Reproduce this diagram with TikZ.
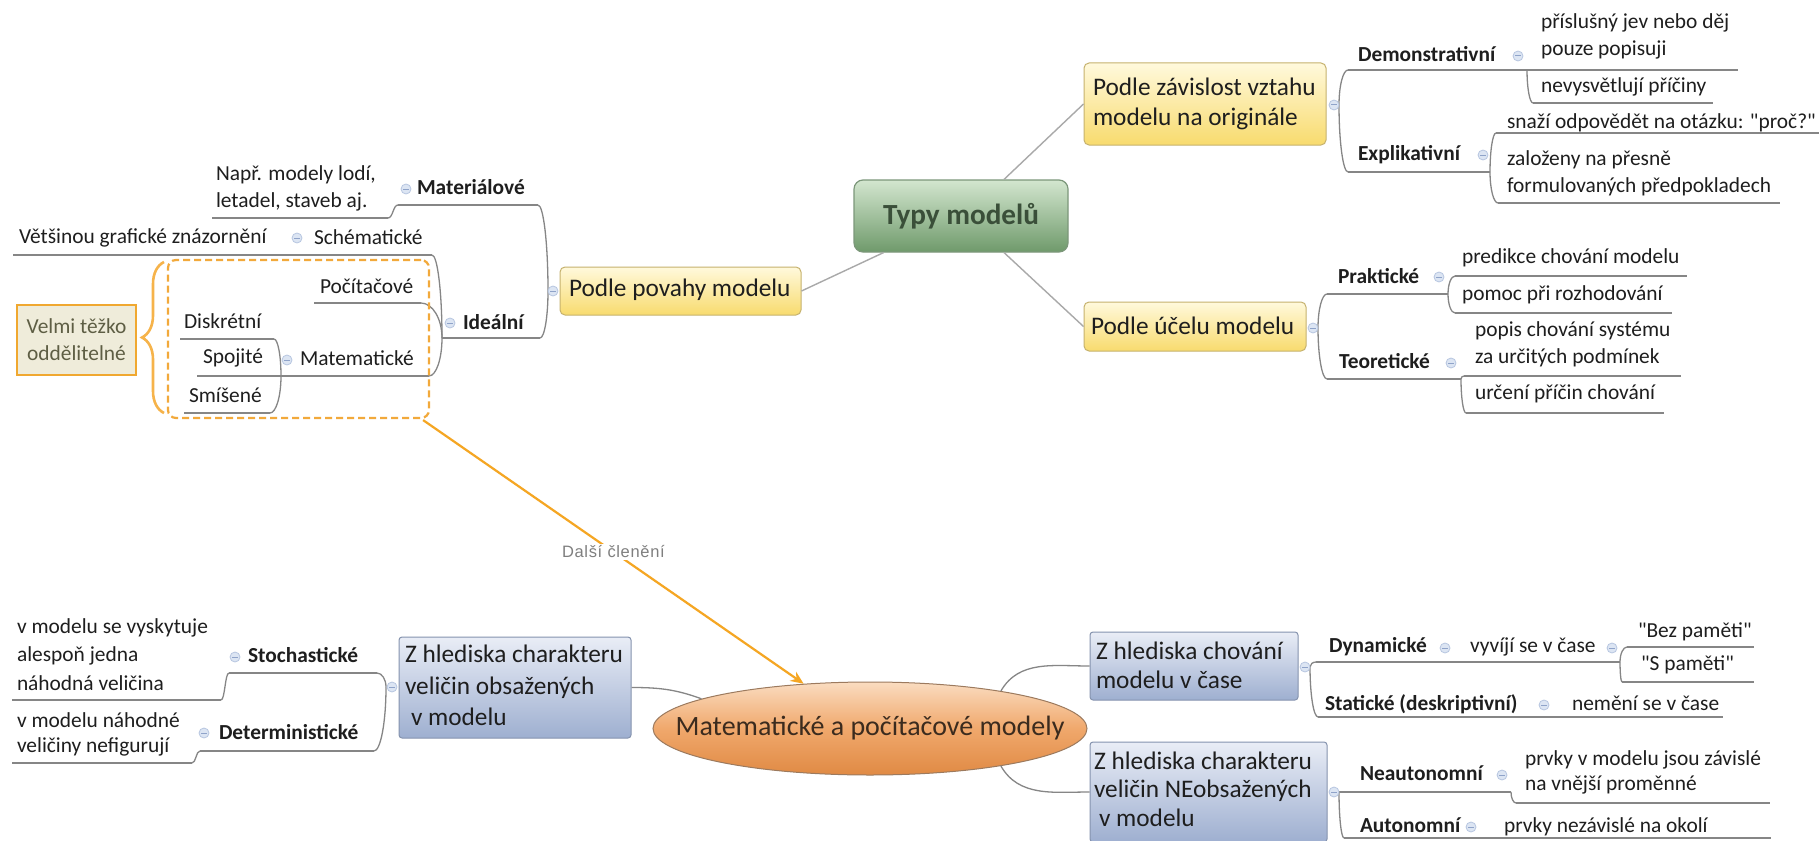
\documentclass[tikz,border=0pt]{standalone}
\usepackage{fontspec}
\setmainfont{Carlito}[Ligatures=TeXOff]
\newfontfamily\labelfamily[LetterSpace=4]{Liberation Sans}
\usetikzlibrary{arrows.meta,calc,decorations.pathreplacing,shapes.geometric}

% colours
\definecolor{ulgray}{HTML}{868686}
\definecolor{rootgray}{HTML}{A9A9A9}
\definecolor{txt}{HTML}{1E1E1E}
\definecolor{roottop}{HTML}{D3E6CF}
\definecolor{rootbot}{HTML}{6F9A6B}
\definecolor{rootline}{HTML}{7C977A}
\definecolor{roottext}{HTML}{3A4F39}
\definecolor{ytop}{HTML}{FFF9DC}
\definecolor{ybot}{HTML}{F8DB6E}
\definecolor{yline}{HTML}{C6B26E}
\definecolor{btop}{HTML}{E9EDF6}
\definecolor{bbot}{HTML}{9EAFD0}
\definecolor{bline}{HTML}{8593AE}
\definecolor{etop}{HTML}{FADCC0}
\definecolor{emid}{HTML}{F0A86C}
\definecolor{ebot}{HTML}{E08A44}
\definecolor{eline}{HTML}{9C7A5E}
\definecolor{etext}{HTML}{3B2B1E}
\definecolor{orline}{HTML}{F5A623}
\definecolor{ordash}{HTML}{F2A93B}
\definecolor{orbrace}{HTML}{F6B34A}
\definecolor{hintfill}{HTML}{EFECDA}
\definecolor{hintline}{HTML}{F0A830}
\definecolor{hinttext}{HTML}{5E5E44}
\definecolor{togfill}{HTML}{DCE5F3}
\definecolor{togline}{HTML}{B7C6E0}
\definecolor{togminus}{HTML}{8FA3C9}
\definecolor{lbltext}{HTML}{7F7F7F}

% fonts
\newcommand\fnorm{\fontsize{21.4pt}{27pt}\selectfont}
\newcommand\ftopic{\fontsize{25.3pt}{29.5pt}\selectfont}
\newcommand\froot{\fontsize{29.2pt}{34pt}\selectfont\bfseries}
\newcommand\fellip{\fontsize{28pt}{33pt}\selectfont}
\newcommand\flbl{\labelfamily\fontsize{16.5pt}{19pt}\selectfont}
\newcommand\nstrut{\rule[-4.5pt]{0pt}{19.5pt}}
\newcommand\tstrut{\rule[-5.3pt]{0pt}{23pt}}

\begin{document}
\begin{tikzpicture}[x=1pt,y=-1pt,
  leaf/.style={anchor=west, inner sep=0pt, outer sep=0pt, align=left, font=\fnorm, text=txt,
    execute at begin node=\nstrut, execute at end node=\nstrut},
  leafb/.style={leaf, font=\fnorm\bfseries},
  topictext/.style={anchor=west, inner sep=0pt, outer sep=0pt, align=left, font=\ftopic, text=txt,
    execute at begin node=\tstrut, execute at end node=\tstrut},
  root/.style={rectangle, rounded corners=9pt, minimum width=214pt, minimum height=72pt, inner sep=0pt,
    top color=roottop, bottom color=rootbot, draw=rootline, line width=1.2pt, font=\froot, text=roottext},
  ybox/.style={rectangle, rounded corners=5pt, inner sep=0pt, top color=ytop, bottom color=ybot,
    draw=yline, line width=1pt},
  bbox/.style={rectangle, rounded corners=3pt, inner sep=0pt, top color=btop, bottom color=bbot,
    draw=bline, line width=1pt},
  ell/.style={ellipse, minimum width=434pt, minimum height=93pt, inner sep=0pt,
    top color=etop, bottom color=ebot, middle color=emid, draw=eline, line width=1pt,
    font=\fellip, text=etext},
  group/.style={rectangle, rounded corners=8pt, minimum width=261pt, minimum height=158pt, inner sep=0pt,
    draw=ordash, line width=2.2pt, dash pattern=on 7pt off 4pt},
  hint/.style={rectangle, minimum width=119pt, minimum height=70pt, inner sep=0pt, align=center,
    fill=hintfill, draw=hintline, line width=2.5pt, font=\fnorm, text=hinttext},
  tog/.style={circle, draw=togline, fill=togfill, line width=0.8pt, minimum size=10pt, inner sep=0pt,
    path picture={\draw[togminus, line width=1pt]
      ($(path picture bounding box.center)+(-2.6,0)$) -- ($(path picture bounding box.center)+(2.6,0)$);}},
  ul/.style={draw=ulgray, line width=1.3pt},
  rootconn/.style={draw=rootgray, line width=1.4pt},
  bracket/.style={draw=ulgray, line width=1.3pt,
    to path={.. controls ($(\tikztostart)!0.55!(\tikztostart|-\tikztotarget)$)
      and ($(\tikztotarget)!0.55!(\tikztostart|-\tikztotarget)$) .. (\tikztotarget)}},
  swing/.style={draw=ulgray, line width=1.3pt,
    to path={.. controls ($(\tikztostart)!0.5!(\tikztotarget|-\tikztostart)$)
      and ($(\tikztotarget)!0.5!(\tikztostart|-\tikztotarget)$) .. (\tikztotarget)}},
  branch/.style={draw=ulgray, line width=1.3pt},
  orarrow/.style={draw=orline, line width=2.2pt, -{Stealth[length=13pt,width=11pt]}},
  lbl/.style={fill=white, inner sep=2pt, font=\flbl, text=lbltext},
  bracestyle/.style={draw=orbrace, line width=2.6pt, decorate,
    decoration={brace, amplitude=22pt, aspect=0.5}}
]
\useasboundingbox (0,0) rectangle (1819,840);
\fill[white] (0,0) rectangle (1819,840);
\clip (0,0) rectangle (1819,840);

% ---------------- main boxes
\node[root] (typy) at (961,216) {Typy modelů};
\node[ybox, minimum width=242pt, minimum height=82pt] (zav) at (1205,104) {};
\node[topictext] (zav-t) at (1093,104.5) {Podle závislost vztahu\\modelu na originále};
\node[ybox, minimum width=222pt, minimum height=49pt] (ucel) at (1195,326.5) {};
\node[topictext] (ucel-t) at (1091,328) {Podle účelu modelu};
\node[ybox, minimum width=241pt, minimum height=48pt] (pov) at (680.5,291) {};
\node[topictext] (pov-t) at (569,290) {Podle povahy modelu};

\node[bbox, minimum width=232pt, minimum height=101pt] (zobs) at (515,687.5) {};
\node[topictext, font=\fontsize{25.3pt}{31.5pt}\selectfont] (zobs-t) at (405,688)
  {Z hlediska charakteru\\veličin obsažených\\\hspace*{6pt}v modelu};
\node[bbox, minimum width=208pt, minimum height=68pt] (chov) at (1194,666) {};
\node[topictext] (chov-t) at (1096,668) {Z hlediska chování\\modelu v čase};
\node[bbox, minimum width=237pt, minimum height=100pt] (neo) at (1208.5,792) {};
\node[topictext, font=\fontsize{25.3pt}{28.5pt}\selectfont] (neo-t) at (1094,791.5)
  {Z hlediska charakteru\\veličin NEobsažených\\\hspace*{5pt}v modelu};

% the text is boxed to zero width so the ellipse keeps its given size
\node[ell] (matmod) at (870,728.5) {\makebox[0pt][c]{Matematické a počítačové modely}};

% ---------------- root connectors
\draw[rootconn] ($(typy.north west)!0.7!(typy.north east)$) -- (zav.west);
\draw[rootconn] ($(typy.south west)!0.7!(typy.south east)$) -- (ucel.west);
\draw[rootconn] ($(typy.south west)!0.14!(typy.south east)$) -- (pov.east);

% ================= Podle závislost vztahu modelu na originále
\coordinate (zav-p) at (1339,105);
\coordinate (dem-l) at (1348,70);  \coordinate (dem-r) at (1527,70);  \coordinate (pri-r) at (1738,70);
\coordinate (nev-l) at (1533,103); \coordinate (nev-r) at (1713,103);
\coordinate (exp-l) at (1348,172); \coordinate (exp-r) at (1490,172);
\coordinate (sna-l) at (1496,133); \coordinate (sna-r) at (1819,133);
\coordinate (zal-l) at (1498,203); \coordinate (zal-r) at (1780,203);
\draw[ul] (dem-l) -- (dem-r) -- (pri-r);
\draw[ul] (nev-l) -- (nev-r);
\draw[ul] (exp-l) -- (exp-r);
\draw[ul] (sna-l) -- (sna-r);
\draw[ul] (zal-l) -- (zal-r);
\draw[bracket] (zav-p) to (dem-l);
\draw[bracket] (zav-p) to (exp-l);
\draw[bracket] (dem-r) to (nev-l);
\draw[bracket] (exp-r) to (sna-l);
\draw[bracket] (exp-r) to (zal-l);
\node[tog] (zav-c) at (1334,105) {};
\node[leafb] (dem) at (1358,56) {Demonstrativní};
\node[tog] (dem-c) at (1518,56) {};
\node[leaf] (pri) at (1541,36.5) {příslušný jev nebo děj\\pouze popisuji};
\node[leaf] (nev) at (1541,87) {nevysvětlují příčiny};
\node[leafb] (exp) at (1358,155) {Explikativní};
\node[tog] (exp-c) at (1483,155) {};
\node[leaf] (sna) at (1507,123) {snaží odpovědět na otázku: "proč?"};
\node[leaf] (zal) at (1507,173.5) {založeny na přesně\\formulovaných předpokladech};

% ================= Podle účelu modelu
\coordinate (ucel-p) at (1318,328);
\coordinate (pra-l) at (1327,294); \coordinate (pra-r) at (1448,294);
\coordinate (pre-l) at (1455,276); \coordinate (pre-r) at (1687,276);
\coordinate (pom-l) at (1455,313); \coordinate (pom-r) at (1672,313);
\coordinate (teo-l) at (1327,379); \coordinate (teo-r) at (1461,379);
\coordinate (pop-l) at (1464,376); \coordinate (pop-r) at (1681,376);
\coordinate (urc-l) at (1466,413); \coordinate (urc-r) at (1664,413);
\draw[ul] (pra-l) -- (pra-r);
\draw[ul] (pre-l) -- (pre-r);
\draw[ul] (pom-l) -- (pom-r);
\draw[ul] (teo-l) -- (teo-r);
\draw[ul] (pop-l) -- (pop-r);
\draw[ul] (urc-l) -- (urc-r);
\draw[bracket] (ucel-p) to (pra-l);
\draw[bracket] (ucel-p) to (teo-l);
\draw[bracket] (pra-r) to (pre-l);
\draw[bracket] (pra-r) to (pom-l);
\draw[bracket] (teo-r) to (pop-l);
\draw[bracket] (teo-r) to (urc-l);
\node[tog] (ucel-c) at (1313,328) {};
\node[leafb] (pra) at (1338,278) {Praktické};
\node[tog] (pra-c) at (1439,277) {};
\node[leaf] (pre) at (1462,258) {predikce chování modelu};
\node[leaf] (pom) at (1462,295) {pomoc při rozhodování};
\node[leafb] (teo) at (1339,363) {Teoretické};
\node[tog] (teo-c) at (1451,363) {};
\node[leaf] (pop) at (1475,345) {popis chování systému\\za určitých podmínek};
\node[leaf] (urc) at (1475,394) {určení příčin chování};

% ================= Podle povahy modelu
\coordinate (pov-p) at (548,291);
\coordinate (mtl-l) at (398,205); \coordinate (mtl-r) at (538,205);
\coordinate (nap-l) at (212,218); \coordinate (nap-r) at (388,218);
\coordinate (ide-l) at (442,338); \coordinate (ide-r) at (540,338);
\coordinate (vet-l) at (13,255);  \coordinate (sch-l) at (288,255); \coordinate (sch-r) at (432,255);
\coordinate (poc-l) at (314,303); \coordinate (poc-r) at (421,303);
\coordinate (mtm-l) at (281,376); \coordinate (mtm-r) at (429,376);
\coordinate (dis-l) at (180,339); \coordinate (dis-r) at (274,339);
\coordinate (spo-l) at (197,376); \coordinate (spo-r) at (277,376);
\coordinate (smi-l) at (184,413); \coordinate (smi-r) at (270,413);
\draw[ul] (mtl-l) -- (mtl-r);
\draw[ul] (nap-l) -- (nap-r);
\draw[ul] (ide-l) -- (ide-r);
\draw[ul] (vet-l) -- (sch-l) -- (sch-r);
\draw[ul] (poc-l) -- (poc-r);
\draw[ul] (mtm-l) -- (mtm-r);
\draw[ul] (dis-l) -- (dis-r);
\draw[ul] (spo-l) -- (spo-r);
\draw[ul] (smi-l) -- (smi-r);
\draw[bracket] (pov-p) to (mtl-r);
\draw[bracket] (pov-p) to (ide-r);
\draw[swing] (mtl-l) to (nap-r);
\draw[bracket] (ide-l) to (sch-r);
\draw[bracket] (ide-l) to (poc-r);
\draw[bracket] (ide-l) to (mtm-r);
\draw[bracket] (mtm-l) to (dis-r);
\draw[branch] (mtm-l) -- (spo-r);
\draw[bracket] (mtm-l) to (smi-r);
\node[tog] (pov-c) at (553,291) {};
\node[leafb] (mtl) at (417,189) {Materiálové};
\node[tog] (mtl-c) at (406,189) {};
\node[leaf] (nap) at (216,188.5) {Např. modely lodí,\\letadel, staveb aj.};
\node[leaf] (sch) at (314,239) {Schématické};
\node[tog] (sch-c) at (297,238) {};
\node[leaf] (vet) at (19,238) {Většinou grafické znázornění};
\node[leafb] (ide) at (463,324) {Ideální};
\node[tog] (ide-c) at (450,323) {};
\node[leaf] (poc) at (320,288) {Počítačové};
\node[leaf] (mtm) at (300,360) {Matematické};
\node[tog] (mtm-c) at (287,360) {};
\node[leaf] (dis) at (184,323) {Diskrétní};
\node[leaf] (spo) at (203,358) {Spojité};
\node[leaf] (smi) at (189,397) {Smíšené};

% dashed group, brace and side note
\node[group] (idealgroup) at (298.5,339) {};
\draw[bracestyle] (164,413) -- (164,262);
\node[hint] (velmi) at (76.5,340) {Velmi těžko\\oddělitelné};

% further division arrow
\draw[orarrow] ([xshift=-7pt,yshift=-1pt]idealgroup.south east)
  -- node[lbl] (dalsi) {Další členění} (matmod.146);

% ================= Z hlediska charakteru veličin obsažených v modelu
\coordinate (zobs-p) at (386,687);
\coordinate (sto-l) at (229,673); \coordinate (sto-r) at (377,673);
\coordinate (det-l) at (200,751); \coordinate (det-r) at (374,751);
\coordinate (vmo-l) at (12,700);  \coordinate (vmo-r) at (221,700);
\coordinate (vmn-l) at (12,763);  \coordinate (vmn-r) at (192,763);
\draw[ul] (sto-l) -- (sto-r);
\draw[ul] (det-l) -- (det-r);
\draw[ul] (vmo-l) -- (vmo-r);
\draw[ul] (vmn-l) -- (vmn-r);
\draw[bracket] (zobs-p) to (sto-r);
\draw[bracket] (zobs-p) to (det-r);
\draw[swing] (sto-l) to (vmo-r);
\draw[swing] (det-l) to (vmn-r);
\node[tog] (zobs-c) at (392,687) {};
\node[leafb] (sto) at (248,657) {Stochastické};
\node[tog] (sto-c) at (235,657) {};
\node[leaf, font=\fontsize{21.4pt}{28.5pt}\selectfont] (vmo) at (17,656.5)
  {v modelu se vyskytuje\\alespoň jedna\\náhodná veličina};
\node[leafb] (det) at (219,734) {Deterministické};
\node[tog] (det-c) at (204,733) {};
\node[leaf, font=\fontsize{21.4pt}{25pt}\selectfont] (vmn) at (17,734.5)
  {v modelu náhodné\\veličiny nefigurují};

% ================= Z hlediska chování modelu v čase
\coordinate (chov-p) at (1310,667);
\coordinate (dyn-l) at (1316,662); \coordinate (dyn-r) at (1458,662); \coordinate (vyv-r) at (1620,662);
\coordinate (bez-l) at (1627,647); \coordinate (bez-r) at (1754,647);
\coordinate (spa-l) at (1622,682); \coordinate (spa-r) at (1754,682);
\coordinate (sta-l) at (1318,717); \coordinate (sta-r) at (1556,717); \coordinate (nem-r) at (1723,717);
\draw[ul] (dyn-l) -- (dyn-r) -- (vyv-r);
\draw[ul] (bez-l) -- (bez-r);
\draw[ul] (spa-l) -- (spa-r);
\draw[ul] (sta-l) -- (sta-r) -- (nem-r);
\draw[bracket] (chov-p) to (dyn-l);
\draw[bracket] (chov-p) to (sta-l);
\draw[bracket] (vyv-r) to (bez-l);
\draw[bracket] (vyv-r) to (spa-l);
\node[tog] (chov-c) at (1305,667) {};
\node[leafb] (dyn) at (1329,647) {Dynamické};
\node[tog] (dyn-c) at (1445,648) {};
\node[leaf] (vyv) at (1470,647) {vyvíjí se v čase};
\node[tog] (vyv-c) at (1612,648) {};
\node[leaf] (bez) at (1638,632) {"Bez paměti"};
\node[leaf] (spa) at (1641,665) {"S paměti"};
\node[leafb] (sta) at (1325,705) {Statické (deskriptivní)};
\node[tog] (sta-c) at (1544,705) {};
\node[leaf] (nem) at (1572,705) {nemění se v čase};

% ================= Z hlediska charakteru veličin NEobsažených v modelu
\coordinate (neo-p) at (1339,792);
\coordinate (neu-l) at (1344,792); \coordinate (neu-r) at (1511,792);
\coordinate (prz-l) at (1516,803); \coordinate (prz-r) at (1770,803);
\coordinate (aut-l) at (1344,838); \coordinate (aut-r) at (1488,838); \coordinate (prn-r) at (1771,838);
\draw[ul] (neu-l) -- (neu-r);
\draw[ul] (prz-l) -- (prz-r);
\draw[ul] (aut-l) -- (aut-r) -- (prn-r);
\draw[branch] (neo-p) -- (neu-l);
\draw[bracket] (neo-p) to (aut-l);
\draw[bracket] (neu-r) to (prz-l);
\node[tog] (neo-c) at (1334,792) {};
\node[leafb] (neu) at (1360,775) {Neautonomní};
\node[tog] (neu-c) at (1502,775) {};
\node[leaf, font=\fontsize{21.4pt}{25pt}\selectfont] (prz) at (1525,772.5)
  {prvky v modelu jsou závislé\\na vnější proměnné};
\node[leafb] (aut) at (1360,827) {Autonomní};
\node[tog] (aut-c) at (1471,827) {};
\node[leaf] (prn) at (1504,827) {prvky nezávislé na okolí};

% ================= ellipse connectors
\draw[branch] (zobs.east) to[out=0,in=160] (matmod.170);
\draw[branch] (matmod.16) to[out=60,in=180] (chov.west);
\draw[branch] (matmod.-16) to[out=-60,in=180] (neo.west);
\end{tikzpicture}
\end{document}
